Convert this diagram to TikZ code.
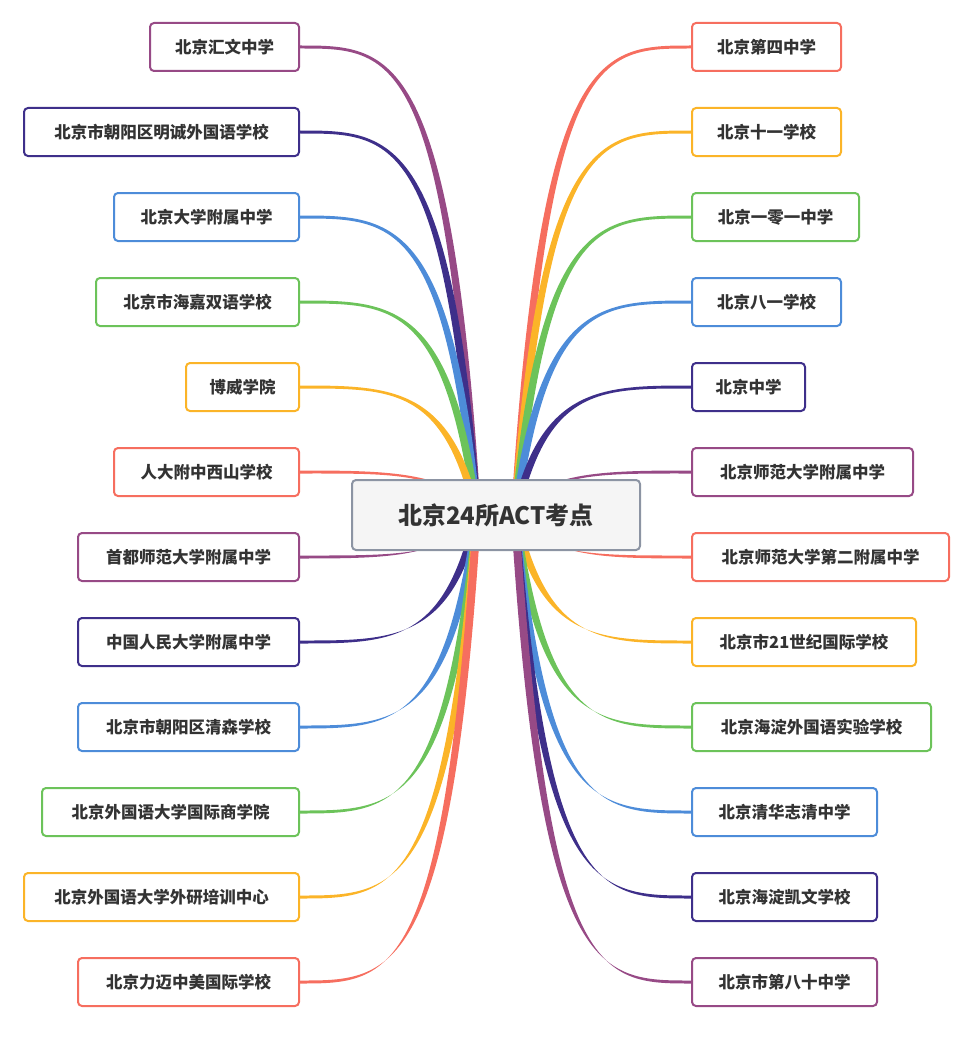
\documentclass[tikz,border=0pt]{standalone}
\usepackage{fontspec}
\newfontfamily\cjk{Noto Sans CJK SC}
\usetikzlibrary{calc}
\definecolor{cr}{HTML}{F66E5F}
\definecolor{co}{HTML}{FBB428}
\definecolor{cg}{HTML}{6CC35A}
\definecolor{cb}{HTML}{4D8CD9}
\definecolor{cd}{HTML}{3E2F8A}
\definecolor{cp}{HTML}{974A86}
\definecolor{cgr}{HTML}{8C94A3}
\tikzset{box/.style={draw, line width=2pt, rounded corners=4pt, fill=white, minimum height=48pt, inner ysep=0pt, inner xsep=0pt, font=\cjk\bfseries\fontsize{16.5}{19}\selectfont, text=black!80}}
\begin{document}
\begin{tikzpicture}[x=1pt,y=-1pt]
\useasboundingbox (0,0) rectangle (974,1038);
\coordinate (cR) at (515,515);
\coordinate (cL) at (477,515);
\foreach \i/\y/\w/\t/\col in {1/47/149/北京第四中学/cr,2/132/149/北京十一学校/co,3/217/167/北京一零一中学/cg,4/302/149/北京八一学校/cb,5/387/113/北京中学/cd,6/472/221/北京师范大学附属中学/cp,7/557/257/北京师范大学第二附属中学/cr,8/642/224/北京市21世纪国际学校/co,9/727/239/北京海淀外国语实验学校/cg,10/812/185/北京清华志清中学/cb,11/897/185/北京海淀凯文学校/cd,12/982/185/北京市第八十中学/cp}{
 \node[box, draw=\col, minimum width=\w pt, anchor=west] (r\i) at (691,\y) {\t};
 \fill[\col] ($(cR)+(-4,0)$) .. controls (540,\y) and (600,\y-1.5) .. ($(r\i.west)+(0,-1.5)$) -- ($(r\i.west)+(0,1.5)$) .. controls (600,\y+1.5) and (548,\y) .. ($(cR)+(4,0)$) -- cycle;
}
\foreach \i/\y/\w/\t/\col in {1/47/149/北京汇文中学/cp,2/132/275/北京市朝阳区明诚外国语学校/cd,3/217/185/北京大学附属中学/cb,4/302/203/北京市海嘉双语学校/cg,5/387/113/博威学院/co,6/472/185/人大附中西山学校/cr,7/557/221/首都师范大学附属中学/cp,8/642/221/中国人民大学附属中学/cd,9/727/221/北京市朝阳区清森学校/cb,10/812/257/北京外国语大学国际商学院/cg,11/897/275/北京外国语大学外研培训中心/co,12/982/221/北京力迈中美国际学校/cr}{
 \node[box, draw=\col, minimum width=\w pt, anchor=east] (l\i) at (300,\y) {\t};
 \fill[\col] ($(cL)+(4,0)$) .. controls (452,\y) and (392,\y-1.5) .. ($(l\i.east)+(0,-1.5)$) -- ($(l\i.east)+(0,1.5)$) .. controls (392,\y+1.5) and (444,\y) .. ($(cL)+(-4,0)$) -- cycle;
}
\node[box, draw=cgr, fill=gray!8, minimum width=288pt, minimum height=70pt, font=\cjk\bfseries\fontsize{24}{28}\selectfont] (c) at (496,515) {北京24所ACT考点};
\end{tikzpicture}
\end{document}
